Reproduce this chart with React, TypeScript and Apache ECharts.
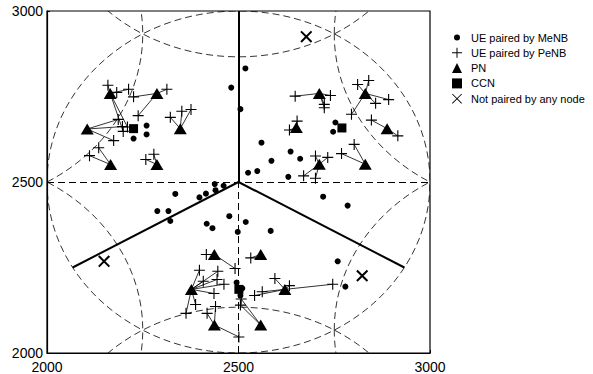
import React, { useEffect, useRef } from 'react';
import * as echarts from 'echarts';

const AXIS_MIN = 2000;
const AXIS_MAX = 3000;
const AXIS_STEP = 500;

const legendNames = ['UE paired by MeNB', 'UE paired by PeNB', 'PN', 'CCN', 'Not paired by any node'];

const meNBUEs: number[][] = [
  [2260, 2665], [2260, 2639], [2226, 2627],
  [2518, 2832], [2481, 2776], [2505, 2713],
  [2560, 2615], [2586, 2562], [2525, 2527], [2549, 2532], [2636, 2589], [2661, 2568], [2630, 2515],
  [2753, 2674], [2747, 2647],
  [2438, 2494], [2461, 2489], [2440, 2476], [2398, 2455], [2415, 2466], [2335, 2465],
  [2288, 2415], [2317, 2415], [2322, 2386], [2417, 2378], [2432, 2365], [2476, 2400],
  [2498, 2354], [2519, 2383], [2584, 2357],
  [2721, 2457], [2785, 2431], [2759, 2268], [2779, 2194],
  [2495, 2206], [2510, 2189], [2505, 2168],
];

const pnNodes: number[][] = [
  [2165, 2759], [2287, 2759], [2105, 2655], [2348, 2656], [2166, 2551], [2287, 2551],
  [2711, 2759], [2831, 2759], [2651, 2659], [2888, 2656], [2711, 2552], [2831, 2552],
  [2437, 2288], [2558, 2288], [2377, 2186], [2621, 2186], [2437, 2082], [2558, 2082],
];

const ccnNodes: number[][] = [[2226, 2656], [2770, 2658], [2501, 2186]];

// [x, y, index of serving PN]
const peNBUEs: number[][] = [
  [2159, 2783, 0], [2182, 2762, 0], [2213, 2771, 0], [2199, 2648, 0], [2210, 2661, 0],
  [2226, 2749, 1], [2313, 2771, 1], [2238, 2694, 1],
  [2186, 2683, 2], [2197, 2662, 2], [2174, 2621, 2],
  [2322, 2689, 3], [2352, 2707, 3], [2376, 2712, 3],
  [2135, 2600, 4], [2111, 2577, 4],
  [2258, 2566, 5], [2279, 2581, 5],
  [2648, 2751, 6], [2740, 2753, 6], [2724, 2727, 6], [2724, 2717, 6],
  [2811, 2785, 7], [2840, 2797, 7], [2892, 2741, 7], [2858, 2730, 7], [2795, 2698, 7],
  [2653, 2678, 8], [2633, 2652, 8],
  [2847, 2681, 9], [2916, 2635, 9],
  [2701, 2576, 10], [2733, 2572, 10], [2670, 2518, 10], [2701, 2511, 10],
  [2802, 2610, 11], [2769, 2583, 11],
  [2416, 2288, 12], [2491, 2247, 12],
  [2532, 2278, 13],
  [2398, 2242, 14], [2408, 2210, 14], [2446, 2239, 14], [2444, 2215, 14], [2462, 2201, 14],
  [2436, 2174, 14], [2388, 2142, 14], [2363, 2116, 14],
  [2595, 2218, 15], [2633, 2197, 15], [2562, 2179, 15], [2542, 2168, 15], [2746, 2201, 15],
  [2440, 2136, 16], [2418, 2116, 16], [2501, 2047, 16],
  [2505, 2140, 17], [2507, 2158, 17],
];

const unpairedUEs: number[][] = [[2677, 2925], [2149, 2268], [2823, 2226]];

// [centerX, centerY, radius]
const cellCircles: number[][] = [
  [2500, 2500, 500], [2500, 3366, 500], [2500, 1634, 500],
  [1750, 2933, 500], [3250, 2933, 500], [1750, 2067, 500], [3250, 2067, 500],
];

const sectorCenter = [2500, 2500];
const sectorEnds: number[][] = [[2500, 3000], [2067, 2250], [2933, 2250]];
const dashedSegments: number[][][] = [
  [[2000, 2500], [3000, 2500]],
  [[2500, 2000], [2500, 2500]],
];

const PLUS = 'path://M4.5,0H5.5V10H4.5Z M0,4.5H10V5.5H0Z';
const CROSS = 'path://M0,1.2L1.2,0L10,8.8L8.8,10Z M8.8,0L10,1.2L1.2,10L0,8.8Z';
const CROSS_THIN = 'path://M0,0.6L0.6,0L10,9.4L9.4,10Z M9.4,0L10,0.6L0.6,10L0,9.4Z';
const DOT_SMALL = 'path://M0,0M10,10M5,2A3,3,0,1,1,5,8A3,3,0,1,1,5,2Z';

const FONT = 'Liberation Sans, Arial, sans-serif';

export default function App() {
  const ref = useRef<HTMLDivElement>(null);

  useEffect(() => {
    document.body.style.margin = '0';
    if (!ref.current) return;
    const chart = echarts.init(ref.current, null, { renderer: 'svg' });

    const axisCommon = {
      type: 'value' as const,
      min: AXIS_MIN,
      max: AXIS_MAX,
      interval: AXIS_STEP,
      splitLine: { show: false },
      axisLine: { show: true, lineStyle: { color: '#000', width: 1.2 } },
      axisTick: { show: true, inside: true, length: 3, lineStyle: { color: '#000' } },
    };

    const linkData = peNBUEs.map((u) => ({ coords: [[u[0], u[1]], pnNodes[u[2]]] }));
    const sectorData = sectorEnds.map((e) => ({ coords: [sectorCenter, e] }));
    const dashedData = dashedSegments.map((s) => ({ coords: s }));
    const fmt = (v: number) => String(v);
    const markerStyle = { color: '#000', opacity: 1 };

    chart.setOption({
      animation: false,
      backgroundColor: '#fff',
      grid: {
        left: 47,
        right: 163,
        top: 11,
        bottom: 19,
        show: true,
        borderColor: '#000',
        borderWidth: 1.2,
        backgroundColor: 'transparent',
      },
      xAxis: {
        ...axisCommon,
        axisLabel: { color: '#000', fontSize: 14, fontFamily: FONT, margin: 7, formatter: fmt },
      },
      yAxis: {
        ...axisCommon,
        axisLabel: { color: '#000', fontSize: 14, fontFamily: FONT, margin: 4, formatter: fmt },
      },
      legend: {
        orient: 'vertical',
        left: 447,
        top: 27,
        itemWidth: 10,
        itemHeight: 10,
        itemGap: 4.3,
        selectedMode: false,
        textStyle: { color: '#000', fontSize: 11, fontFamily: FONT, padding: [0, 0, 0, 4] },
        data: [
          { name: legendNames[0], icon: DOT_SMALL },
          { name: legendNames[1], icon: PLUS },
          { name: legendNames[2], icon: 'triangle' },
          { name: legendNames[3], icon: 'rect' },
          { name: legendNames[4], icon: CROSS_THIN },
        ],
      },
      series: [
        {
          type: 'custom',
          name: 'cells',
          clip: true,
          silent: true,
          z: 1,
          data: cellCircles,
          encode: { x: 0, y: 1 },
          renderItem: (params: any, api: any) => {
            const c = api.coord([api.value(0), api.value(1)]);
            const s = api.size([api.value(2), api.value(2)]);
            return {
              type: 'ellipse',
              shape: { cx: c[0], cy: c[1], rx: s[0], ry: s[1] },
              style: { fill: 'none', stroke: '#000', lineWidth: 0.8, lineDash: [7, 4] },
            };
          },
        },
        {
          type: 'lines',
          name: 'dashed',
          coordinateSystem: 'cartesian2d',
          silent: true,
          z: 2,
          data: dashedData,
          lineStyle: { color: '#000', width: 1, type: [7, 4], opacity: 1 },
        },
        {
          type: 'lines',
          name: 'sectors',
          coordinateSystem: 'cartesian2d',
          silent: true,
          z: 3,
          data: sectorData,
          lineStyle: { color: '#000', width: 2, opacity: 1 },
        },
        {
          type: 'lines',
          name: 'links',
          coordinateSystem: 'cartesian2d',
          silent: true,
          z: 4,
          data: linkData,
          lineStyle: { color: '#000', width: 0.8, opacity: 1 },
        },
        {
          type: 'scatter',
          name: legendNames[0],
          z: 5,
          symbol: 'circle',
          symbolSize: 6,
          itemStyle: markerStyle,
          data: meNBUEs,
        },
        {
          type: 'scatter',
          name: legendNames[1],
          z: 5,
          symbol: PLUS,
          symbolSize: 11,
          itemStyle: markerStyle,
          data: peNBUEs.map((u) => [u[0], u[1]]),
        },
        {
          type: 'scatter',
          name: legendNames[2],
          z: 6,
          symbol: 'triangle',
          symbolSize: [13, 11],
          itemStyle: markerStyle,
          data: pnNodes,
        },
        {
          type: 'scatter',
          name: legendNames[3],
          z: 6,
          symbol: 'rect',
          symbolSize: 9,
          itemStyle: markerStyle,
          data: ccnNodes,
        },
        {
          type: 'scatter',
          name: legendNames[4],
          z: 6,
          symbol: CROSS,
          symbolSize: 12,
          itemStyle: markerStyle,
          data: unpairedUEs,
        },
      ],
    });

    return () => chart.dispose();
  }, []);

  return <div ref={ref} style={{ width: 593, height: 374 }} />;
}
